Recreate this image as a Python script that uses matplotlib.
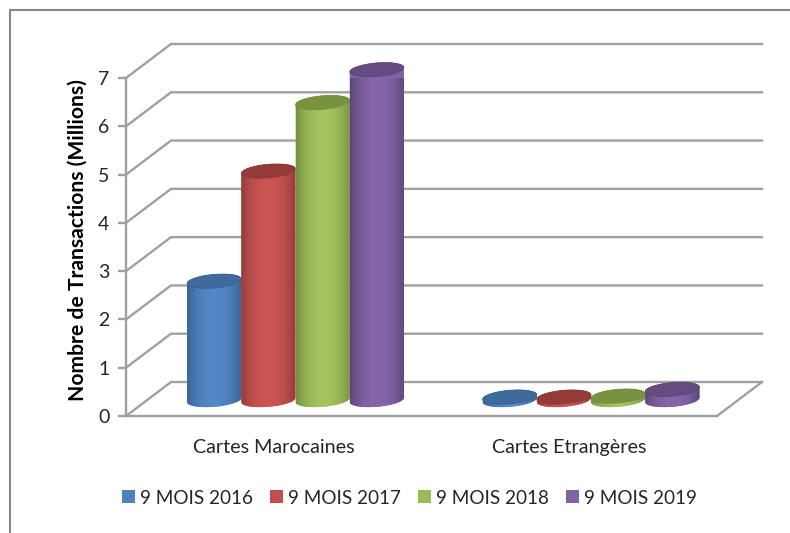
import numpy as np
import matplotlib
matplotlib.use("Agg")
import matplotlib.pyplot as plt
from matplotlib.colors import LinearSegmentedColormap
from matplotlib.lines import Line2D
from matplotlib.patches import Patch, Polygon

categories = ["Cartes Marocaines", "Cartes Etrangères"]
series_names = ["9 MOIS 2016", "9 MOIS 2017", "9 MOIS 2018", "9 MOIS 2019"]
v2016 = [2.46, 0.06]
v2017 = [4.74, 0.06]
v2018 = [6.16, 0.08]
v2019 = [6.84, 0.22]
series_values = [v2016, v2017, v2018, v2019]
y_ticks = [0, 1, 2, 3, 4, 5, 6, 7]
y_label = "Nombre de Transactions (Millions)"

base = ["#4F81BD", "#C0504D", "#9BBB59", "#8064A2"]
light = ["#5288C8", "#CC5552", "#A3C45E", "#8765AC"]
dark = ["#38608F", "#8C3A38", "#728A41", "#59446F"]
cap = ["#3E6A9C", "#943A37", "#789240", "#634C80"]
GRID = "#A0A0A0"
TEXT = "#262626"
FONT = "Lato"

W, H = 790, 533
fig = plt.figure(figsize=(W / 100, H / 100), dpi=100, facecolor="white")
L, R, T, B = 126, 717, 78, 416
ax = fig.add_axes([L / W, 1 - B / H, (R - L) / W, (B - T) / H])
ax.set_xlim(0, 2)
ax.set_ylim(0, 7)
ax.patch.set_visible(False)
px_x = (R - L) / 2
px_y = (B - T) / 7
DX, DY = 45 / px_x, 34 / px_y

# walls and floor
for v in y_ticks:
    ax.plot([0, DX, 2 + DX], [v, v + DY, v + DY], color=GRID, lw=1.7,
            clip_on=False, zorder=1, solid_joinstyle="miter")
ax.plot([2, 2 + DX], [0, DY], color=GRID, lw=1.7, clip_on=False, zorder=1)

# cylinders
bar_w = 54.2 / px_x
a = bar_w / 2
b = 6.8 / px_y
k = 2.2 / px_y
t_low = np.linspace(np.pi, 2 * np.pi, 60)
t_up = np.linspace(0, np.pi, 60)
t_all = np.linspace(0, 2 * np.pi, 120)
prof = np.sin(np.linspace(0.0, np.pi, 200)) ** 0.7
grad = prof[None, :]
z = 3
for c, center in enumerate([0.5, 1.5]):
    for s, vals in enumerate(series_values):
        cx = center + (DX - 1.4 / px_x) / 2 + (s - 1.5) * bar_w
        y0 = DY / 2 - 0.02
        y1 = y0 + vals[c]
        low = np.c_[cx + a * np.cos(t_low), y0 + b * np.sin(t_low) + k * np.cos(t_low)]
        up = np.c_[cx + a * np.cos(t_up), y1 + b * np.sin(t_up) + k * np.cos(t_up)]
        body = Polygon(np.r_[low, up], closed=True, transform=ax.transData,
                       facecolor=base[s], edgecolor="none", clip_on=False, zorder=z)
        ax.add_patch(body)
        cmap = LinearSegmentedColormap.from_list("g", [dark[s], light[s]])
        im = ax.imshow(grad, cmap=cmap, vmin=0, vmax=1, aspect="auto", zorder=z + 0.1,
                       extent=(cx - a, cx + a, y0 - 1, y1 + 1), interpolation="bilinear")
        im.set_clip_path(body)
        top = np.c_[cx + a * np.cos(t_all), y1 + b * np.sin(t_all) + k * np.cos(t_all)]
        ax.add_patch(Polygon(top, closed=True, facecolor=cap[s], edgecolor=dark[s], lw=0.5,
                             clip_on=False, zorder=z + 0.2))
        z += 1
ax.set_xlim(0, 2)
ax.set_ylim(0, 7)

# axes
for sp in ("top", "right"):
    ax.spines[sp].set_visible(False)
for sp in ("left", "bottom"):
    ax.spines[sp].set_color(GRID)
    ax.spines[sp].set_linewidth(1.7)
    ax.spines[sp].set_zorder(2)
ax.set_yticks(y_ticks)
ax.set_yticklabels([str(v) for v in y_ticks], fontsize=14, family=FONT, color=TEXT)
ax.set_xticks([0.5, 1.5])
ax.set_xticklabels(categories, fontsize=14.2, family=FONT, color=TEXT)
ax.tick_params(axis="y", length=6, width=1.7, color=GRID, pad=6)
ax.tick_params(axis="x", length=0, pad=16.5)
ax.set_ylabel(y_label, fontsize=15.2, family=FONT, fontweight="bold", color="black")
ax.yaxis.set_label_coords(-38 / (R - L), (B - 240) / (B - T), transform=ax.transAxes)

# legend
handles = [Patch(facecolor=base[i], edgecolor="none", label=series_names[i]) for i in range(4)]
fig.legend(handles=handles, loc="center", bbox_to_anchor=(409.5 / W, 1 - 498 / H), ncol=4,
           frameon=False, prop={"family": FONT, "size": 13.6}, labelcolor=TEXT,
           handlelength=0.68, handleheight=0.68, handletextpad=0.3, columnspacing=0.88,
           borderpad=0, borderaxespad=0)

# outer frame
fig.add_artist(Line2D([10 / W, 10 / W, 1], [0, 1 - 10 / H, 1 - 10 / H],
                      color="#868686", lw=1.5, transform=fig.transFigure,
                      solid_joinstyle="miter"))

fig.savefig("out.png", dpi=100)
